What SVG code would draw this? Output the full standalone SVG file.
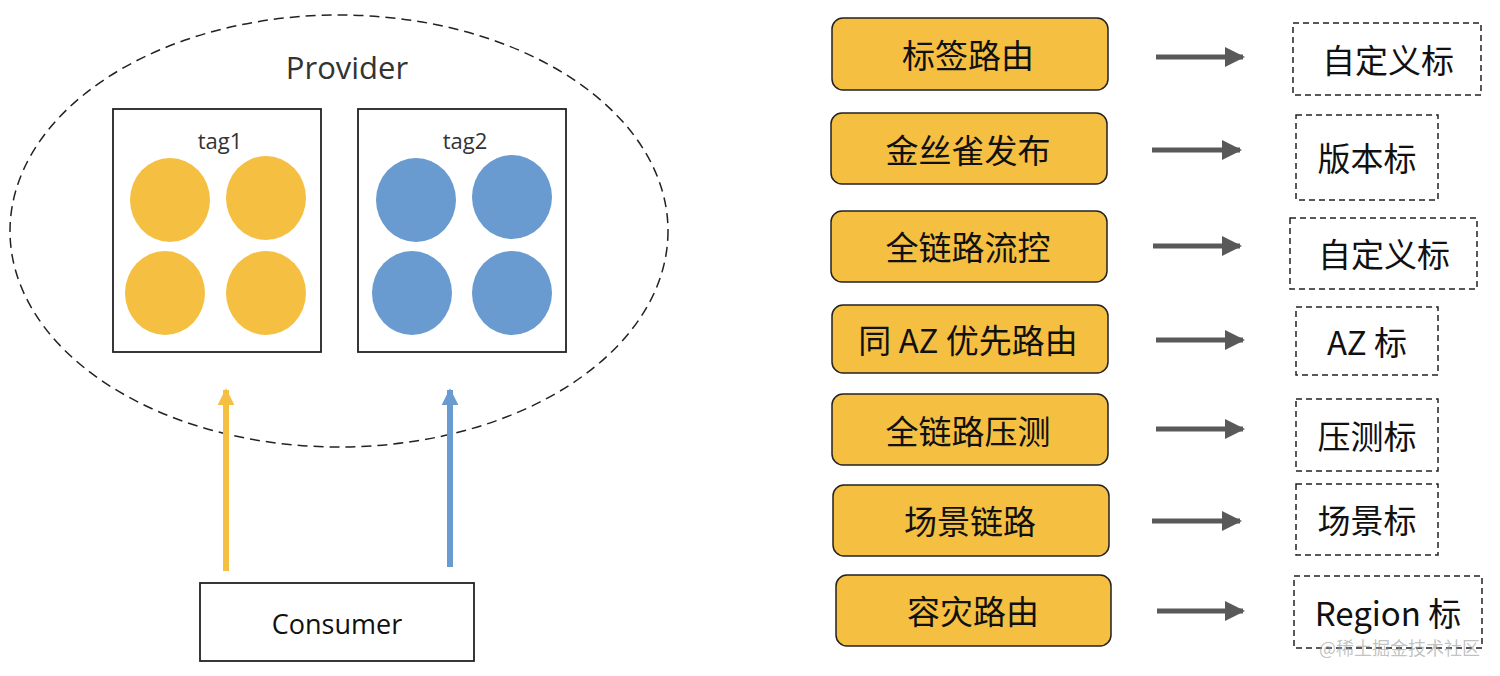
<svg xmlns="http://www.w3.org/2000/svg" width="1500" height="676" viewBox="0 0 1500 676">
<defs>
<style>
.cjk{font-family:"Noto Sans CJK SC","Liberation Sans",sans-serif;fill:#111;text-anchor:middle;dominant-baseline:central}
.lat{font-family:"Open Sans","Liberation Sans",sans-serif;text-anchor:middle;dominant-baseline:central}
.ybox{fill:#F5BF42;stroke:#222;stroke-width:1.5}
.dbox{fill:#fff;stroke:#222;stroke-width:1.5;stroke-dasharray:6 4}
.tbox{fill:#fff;stroke:#222;stroke-width:1.8}
.yc{fill:#F5BF42}
.bc{fill:#6A9BD0}
.garrow{stroke:#595959;stroke-width:5;fill:none}
</style>
<marker id="ga" viewBox="0 0 10 10" refX="9" refY="5" markerWidth="5.2" markerHeight="4" orient="auto" markerUnits="strokeWidth">
<path d="M0,0 L10,5 L0,10 Z" fill="#595959"/>
</marker>
<marker id="ya" viewBox="0 0 10 10" refX="9" refY="5" markerWidth="3" markerHeight="2.8" orient="auto" markerUnits="strokeWidth">
<path d="M0,0 L10,5 L0,10 Z" fill="#F5BF42"/>
</marker>
<marker id="ba" viewBox="0 0 10 10" refX="9" refY="5" markerWidth="3" markerHeight="2.8" orient="auto" markerUnits="strokeWidth">
<path d="M0,0 L10,5 L0,10 Z" fill="#6A9BD0"/>
</marker>
</defs>
<rect width="1500" height="676" fill="#fff"/>

<g id="provider">
<ellipse cx="339" cy="231" rx="329" ry="216" fill="none" stroke="#222" stroke-width="1.5" stroke-dasharray="10 6"/>
<text class="lat" x="347" y="67" font-size="31" fill="#333">Provider</text>
</g>
<g id="tag1">
<rect class="tbox" x="113" y="109" width="208" height="243"/>
<text class="lat" x="220" y="140" font-size="22" fill="#333">tag1</text>
<ellipse class="yc" cx="170" cy="200" rx="40" ry="42"/>
<ellipse class="yc" cx="266" cy="198" rx="40" ry="42"/>
<ellipse class="yc" cx="165" cy="293" rx="40" ry="42"/>
<ellipse class="yc" cx="266" cy="293" rx="40" ry="42"/>
</g>
<g id="tag2">
<rect class="tbox" x="358" y="109" width="208" height="243"/>
<text class="lat" x="465" y="140" font-size="22" fill="#333">tag2</text>
<ellipse class="bc" cx="416" cy="200" rx="40" ry="42"/>
<ellipse class="bc" cx="512" cy="197" rx="40" ry="42"/>
<ellipse class="bc" cx="412" cy="293" rx="40" ry="42"/>
<ellipse class="bc" cx="512" cy="293" rx="40" ry="42"/>
</g>
<g id="consumer">
<rect class="tbox" x="200" y="583" width="274" height="78"/>
<text class="lat" x="337" y="623" font-size="27" fill="#111">Consumer</text>
</g>

<g id="routes">
<g id="r1"><rect class="ybox" x="832" y="18" width="276" height="72" rx="11"/><text class="cjk" x="968" y="54" font-size="33">标签路由</text></g>
<g id="r2"><rect class="ybox" x="831" y="113" width="276" height="71" rx="11"/><text class="cjk" x="968" y="149" font-size="33">金丝雀发布</text></g>
<g id="r3"><rect class="ybox" x="831" y="211" width="276" height="71" rx="11"/><text class="cjk" x="968" y="246" font-size="33">全链路流控</text></g>
<g id="r4"><rect class="ybox" x="832" y="305" width="276" height="68" rx="11"/><text class="cjk" x="968" y="339" font-size="33">同 AZ 优先路由</text></g>
<g id="r5"><rect class="ybox" x="832" y="394" width="276" height="71" rx="11"/><text class="cjk" x="968" y="430" font-size="33">全链路压测</text></g>
<g id="r6"><rect class="ybox" x="833" y="485" width="276" height="71" rx="11"/><text class="cjk" x="970" y="520" font-size="33">场景链路</text></g>
<g id="r7"><rect class="ybox" x="836" y="575" width="275" height="71" rx="11"/><text class="cjk" x="973" y="610" font-size="33">容灾路由</text></g>
</g>

<g id="tags">
<g id="t1"><rect class="dbox" x="1293" y="23" width="188" height="72"/><text class="cjk" x="1388" y="59" font-size="33">自定义标</text></g>
<g id="t2"><rect class="dbox" x="1296" y="115" width="142" height="85"/><text class="cjk" x="1367" y="157" font-size="33">版本标</text></g>
<g id="t3"><rect class="dbox" x="1290" y="218" width="187" height="71"/><text class="cjk" x="1384" y="253" font-size="33">自定义标</text></g>
<g id="t4"><rect class="dbox" x="1296" y="307" width="142" height="68"/><text class="cjk" x="1367" y="341" font-size="33">AZ 标</text></g>
<g id="t5"><rect class="dbox" x="1296" y="399" width="142" height="72"/><text class="cjk" x="1367" y="435" font-size="33">压测标</text></g>
<g id="t6"><rect class="dbox" x="1296" y="484" width="142" height="71"/><text class="cjk" x="1367" y="519" font-size="33">场景标</text></g>
<g id="t7"><rect class="dbox" x="1294" y="576" width="188" height="72"/><text class="cjk" x="1388" y="612" font-size="33">Region 标</text></g>
</g>

<g id="connectors">
<line x1="226" y1="571" x2="226" y2="390" stroke="#F5BF42" stroke-width="6" marker-end="url(#ya)"/>
<line x1="450" y1="567" x2="450" y2="390" stroke="#6A9BD0" stroke-width="6" marker-end="url(#ba)"/>
<line class="garrow" x1="1156" y1="57" x2="1243" y2="57" marker-end="url(#ga)"/>
<line class="garrow" x1="1152" y1="150" x2="1240" y2="150" marker-end="url(#ga)"/>
<line class="garrow" x1="1153" y1="246" x2="1240" y2="246" marker-end="url(#ga)"/>
<line class="garrow" x1="1156" y1="340" x2="1243" y2="340" marker-end="url(#ga)"/>
<line class="garrow" x1="1156" y1="429" x2="1243" y2="429" marker-end="url(#ga)"/>
<line class="garrow" x1="1152" y1="521" x2="1240" y2="521" marker-end="url(#ga)"/>
<line class="garrow" x1="1157" y1="611" x2="1243" y2="611" marker-end="url(#ga)"/>
</g>

<text x="1480" y="655" font-family="Noto Sans CJK SC, Liberation Sans, sans-serif" font-size="18" fill="#999" fill-opacity="0.6" text-anchor="end">@稀土掘金技术社区</text>
</svg>
